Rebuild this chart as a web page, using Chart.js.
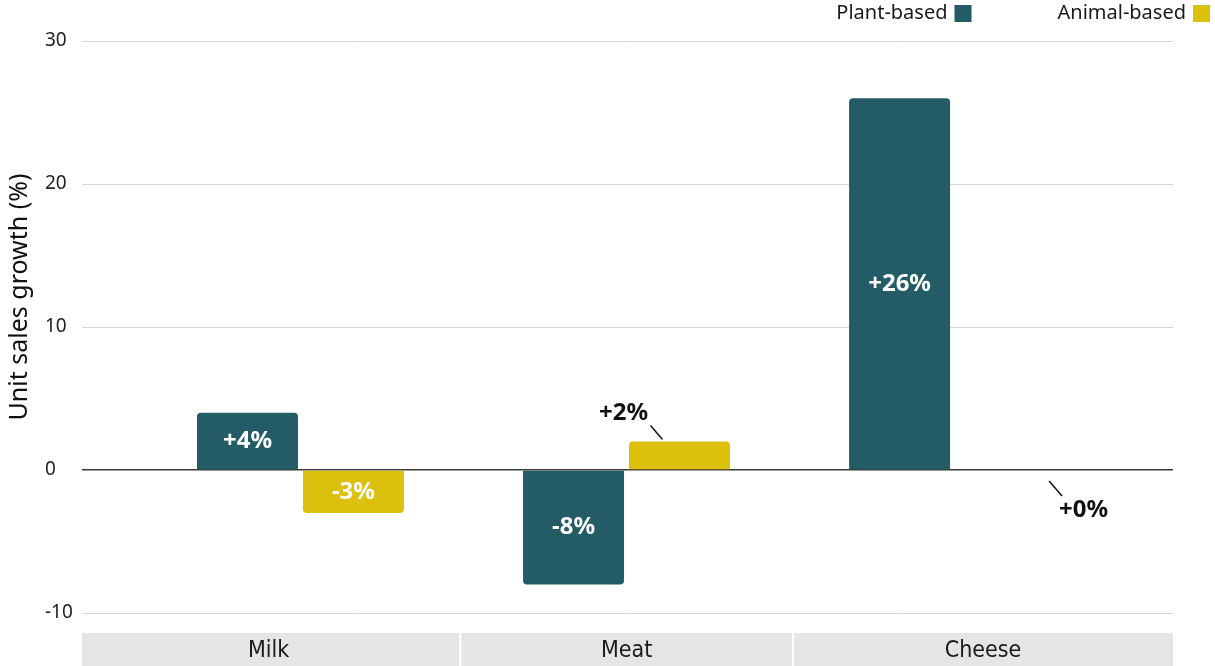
<!DOCTYPE html>
<html>
<head>
<meta charset="utf-8">
<script src="https://cdn.jsdelivr.net/npm/chart.js@4"></script>
<style>
  html, body { margin: 0; padding: 0; background: #ffffff; }
  #wrap { width: 1215px; height: 666px; position: relative; }
</style>
</head>
<body>
<div id="wrap"><canvas id="c"></canvas></div>
<script>
// ---- data ----
const categories = ['Milk', 'Meat', 'Cheese'];
const plantBased = [4, -8, 26];
const animalBased = [-3, 2, 0];
const seriesNames = ['Plant-based', 'Animal-based'];
const yTicks = [-10, 0, 10, 20, 30];
const yTitle = 'Unit sales growth (%)';

// ---- style constants ----
const PLANT = '#235b66';
const ANIMAL = '#dbc10d';
const X_MIN = -0.67, X_MAX = 2.676;
const bandEdges = [-0.685, 0.49, 1.511, 2.676];
const bandCenters = categories.map((c, i) => (bandEdges[i] + bandEdges[i + 1]) / 2);

const toPoints = arr => arr.map((v, i) => ({ x: i, y: v }));

const legendPlugin = {
  id: 'rightLegend',
  afterDraw(chart) {
    const ctx = chart.ctx;
    ctx.save();
    ctx.font = '20px "Noto Sans"';
    ctx.textBaseline = 'middle';
    ctx.textAlign = 'right';
    let right = 1210;
    const items = chart.data.datasets.map(d => ({ text: d.label, color: d.backgroundColor }));
    for (let i = items.length - 1; i >= 0; i--) {
      const it = items[i];
      ctx.fillStyle = it.color;
      ctx.fillRect(right - 17, 5, 17, 17);
      ctx.fillStyle = '#1a1a1a';
      ctx.fillText(it.text, right - 24, 13);
      right = right - 24 - ctx.measureText(it.text).width - 86;
    }
    ctx.restore();
  }
};

const yTitlePlugin = {
  id: 'yTitle',
  afterDraw(chart) {
    const ctx = chart.ctx;
    ctx.save();
    ctx.translate(20, 297);
    ctx.rotate(-Math.PI / 2);
    ctx.font = '25px "Noto Sans"';
    ctx.fillStyle = '#111111';
    ctx.textAlign = 'center';
    ctx.textBaseline = 'middle';
    ctx.fillText(yTitle, 0, 0);
    ctx.restore();
  }
};

const bandPlugin = {
  id: 'bandSeparators',
  afterDraw(chart) {
    const s = chart.scales.xb;
    const ctx = chart.ctx;
    ctx.save();
    ctx.strokeStyle = '#ffffff';
    ctx.lineWidth = 2;
    for (let i = 1; i < bandEdges.length - 1; i++) {
      const px = s.getPixelForValue(bandEdges[i]);
      ctx.beginPath();
      ctx.moveTo(px, s.top);
      ctx.lineTo(px, s.bottom);
      ctx.stroke();
    }
    ctx.restore();
  }
};

const labelPlugin = {
  id: 'barLabels',
  afterDatasetsDraw(chart) {
    const ctx = chart.ctx;
    ctx.save();
    ctx.font = 'bold 24px "Noto Sans"';
    ctx.textAlign = 'center';
    ctx.textBaseline = 'middle';
    chart.data.datasets.forEach((ds, di) => {
      const meta = chart.getDatasetMeta(di);
      meta.data.forEach((bar, i) => {
        const v = ds.data[i].y;
        const txt = (v >= 0 ? '+' : '') + v + '%';
        if (Math.abs(v) >= 3) {
          ctx.fillStyle = '#ffffff';
          ctx.fillText(txt, bar.x, (bar.y + bar.base) / 2);
        } else {
          ctx.fillStyle = '#111111';
          ctx.strokeStyle = '#111111';
          ctx.lineWidth = 1.5;
          ctx.beginPath();
          if (v > 0) {
            ctx.moveTo(bar.x - 29, bar.y - 16);
            ctx.lineTo(bar.x - 17, bar.y - 2);
            ctx.stroke();
            ctx.fillText(txt, bar.x - 56, bar.y - 28);
          } else {
            ctx.moveTo(bar.x + 43.5, bar.y + 11);
            ctx.lineTo(bar.x + 56.5, bar.y + 26);
            ctx.stroke();
            ctx.fillText(txt, bar.x + 78, bar.y + 40);
          }
        }
      });
    });
    ctx.restore();
  }
};

new Chart(document.getElementById('c'), {
  type: 'bar',
  data: {
    datasets: [
      { label: seriesNames[0], data: toPoints(plantBased), backgroundColor: PLANT,
        borderRadius: 4, categoryPercentage: 0.65, barPercentage: 0.953 },
      { label: seriesNames[1], data: toPoints(animalBased), backgroundColor: ANIMAL,
        borderRadius: 4, categoryPercentage: 0.65, barPercentage: 0.953 }
    ]
  },
  options: {
    responsive: true,
    maintainAspectRatio: false,
    animation: false,
    layout: { padding: { left: 45, right: 42, top: 41, bottom: 0 } },
    plugins: { legend: { display: false }, tooltip: { enabled: false } },
    scales: {
      x: {
        type: 'linear', min: X_MIN, max: X_MAX, offset: false,
        afterBuildTicks: s => { s.ticks = categories.map((c, i) => ({ value: i })); },
        grid: { display: false }, border: { display: false },
        ticks: { display: false },
        afterFit: s => { s.height = 20; }
      },
      xb: {
        type: 'linear', position: 'bottom', weight: 1, min: X_MIN, max: X_MAX, offset: false,
        backgroundColor: '#e5e5e7',
        grid: { display: false, drawTicks: false }, border: { display: false },
        afterBuildTicks: s => { s.ticks = bandCenters.map(v => ({ value: v })); },
        ticks: {
          autoSkip: false, maxRotation: 0, padding: 4,
          color: '#1a1a1a',
          font: { family: '"DejaVu Sans Condensed"', size: 23 },
          callback: (v, i) => categories[i]
        },
        afterFit: s => { s.height = 33; }
      },
      y: {
        min: -10, max: 30,
        afterBuildTicks: s => { s.ticks = yTicks.map(v => ({ value: v })); },
        grid: {
          drawTicks: false,
          color: c => (c.tick && c.tick.value === 0) ? '#3a3a3a' : '#d6d6d6',
          lineWidth: c => (c.tick && c.tick.value === 0) ? 1.6 : 1
        },
        border: { display: false },
        ticks: {
          crossAlign: 'far', padding: 8, color: '#222222',
          font: { family: '"Noto Sans"', size: 19 }
        },
        afterFit: s => { s.width = 37; }
      }
    }
  },
  plugins: [legendPlugin, yTitlePlugin, bandPlugin, labelPlugin]
});
</script>
</body>
</html>
